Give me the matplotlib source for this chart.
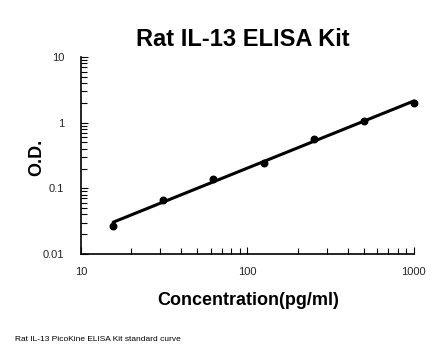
# Rat IL-13 ELISA standard curve

import numpy as np
import matplotlib.pyplot as plt
from matplotlib.ticker import LogLocator, NullFormatter, FixedLocator, FixedFormatter

plt.rcParams['font.family'] = ['Liberation Sans', 'DejaVu Sans']

# standard concentrations (pg/ml) and measured OD
conc = [15.6, 31.25, 62.5, 125, 250, 500, 1000]
od = [0.027, 0.066, 0.137, 0.245, 0.57, 1.06, 1.96]

x_ticks = [10, 100, 1000]
x_tick_labels = ['10', '100', '1000']
y_ticks = [0.01, 0.1, 1, 10]
y_tick_labels = ['0.01', '0.1', '1', '10']

# power trend line (linear fit in log-log space)
slope, icept = np.polyfit(np.log10(conc), np.log10(od), 1)
fit_x = np.array([conc[0], conc[-1]])
fit_y = 10 ** (icept + slope * np.log10(fit_x))

fig = plt.figure(figsize=(4.46, 3.56), dpi=100)
ax = fig.add_axes([0.1816, 0.2865, 0.7464, 0.5535])

ax.plot(fit_x, fit_y, color='black', lw=2.2, solid_capstyle='round', clip_on=False)
ax.scatter(conc, od, s=22, color='black', zorder=3, clip_on=False)

ax.set_xscale('log')
ax.set_yscale('log')
ax.set_xlim(10, 1000)
ax.set_ylim(0.01, 10)

ax.xaxis.set_major_locator(FixedLocator(x_ticks))
ax.xaxis.set_major_formatter(FixedFormatter(x_tick_labels))
ax.yaxis.set_major_locator(FixedLocator(y_ticks))
ax.yaxis.set_major_formatter(FixedFormatter(y_tick_labels))
for axis in (ax.xaxis, ax.yaxis):
    axis.set_minor_locator(LogLocator(base=10, subs=np.arange(2, 10)))
    axis.set_minor_formatter(NullFormatter())

ax.tick_params(which='both', direction='in', width=0.8, color='black')
ax.tick_params(which='major', length=5)
ax.tick_params(which='minor', length=4)
ax.tick_params(axis='x', which='major', labelsize=8, pad=9, labelcolor='#262626')
ax.tick_params(axis='y', which='major', labelsize=8, pad=12, labelcolor='#262626')

ax.spines['top'].set_visible(False)
ax.spines['right'].set_visible(False)
ax.spines['left'].set_linewidth(1.2)
ax.spines['bottom'].set_linewidth(1.2)

fig.text(0.545, 0.888, 'Rat IL-13 ELISA Kit', ha='center', va='center',
         fontsize=17, fontweight='bold')
fig.text(0.556, 0.155, 'Concentration(pg/ml)', ha='center', va='center',
         fontsize=13, fontweight='bold')
fig.text(0.083, 0.559, 'O.D.', ha='center', va='center', rotation=90,
         fontsize=13, fontweight='bold')
fig.text(0.034, 0.045, 'Rat IL-13 PicoKine ELISA Kit standard curve',
         ha='left', va='center', fontsize=6)

fig.savefig('out.png', dpi=100)
